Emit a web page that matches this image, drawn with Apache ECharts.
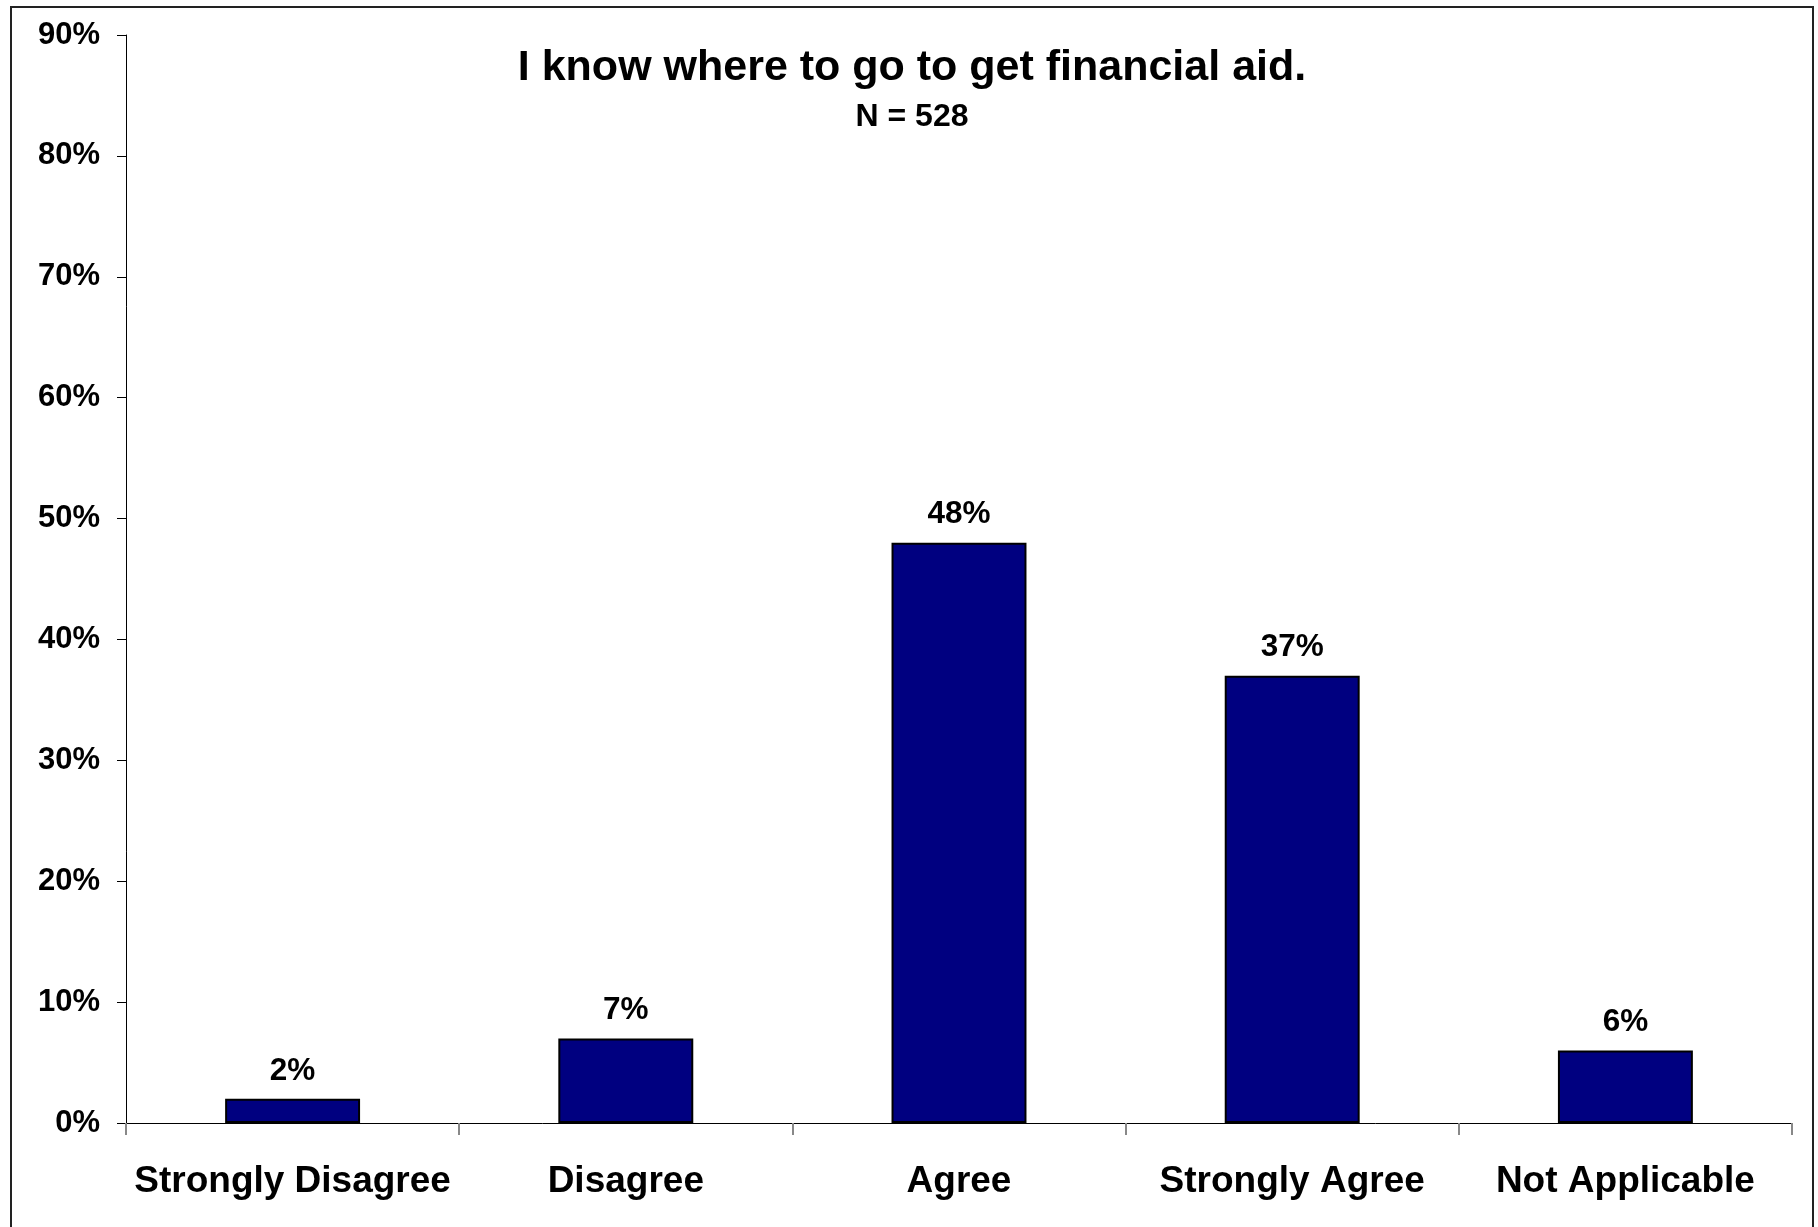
<!DOCTYPE html>
<html>
<head>
<meta charset="utf-8">
<script src="https://cdn.jsdelivr.net/npm/echarts@6/dist/echarts.min.js"></script>
<style>
html,body{margin:0;padding:0;background:#fff;}
#chart{width:1818px;height:1227px;}
</style>
</head>
<body>
<div id="chart"></div>
<script>
const categories = ['Strongly Disagree', 'Disagree', 'Agree', 'Strongly Agree', 'Not Applicable'];
const percentages = [2, 7, 48, 37, 6];
const titleText = 'I know where to go to get financial aid.';
const subtitleText = 'N = 528';
const yMax = 90;
const yInterval = 10;

const FONT = '"Liberation Sans", Arial, sans-serif';
const chart = echarts.init(document.getElementById('chart'), null, {renderer: 'canvas'});
chart.setOption({
  backgroundColor: '#ffffff',
  animation: false,
  grid: {left: 126, top: 35, right: 26, bottom: 104, containLabel: false},
  graphic: [
    {type: 'rect', shape: {x: 11, y: 7, width: 1802, height: 1400}, style: {fill: 'none', stroke: '#222', lineWidth: 2}, z: -1, silent: true},
    {type: 'text', x: 912, y: 68,
      style: {text: titleText, font: 'bold 43px ' + FONT, fill: '#000', textAlign: 'center', textVerticalAlign: 'middle'}},
    {type: 'text', x: 912, y: 117,
      style: {text: subtitleText, font: 'bold 32px ' + FONT, fill: '#000', textAlign: 'center', textVerticalAlign: 'middle'}}
  ],
  xAxis: {
    type: 'category',
    data: categories,
    axisLine: {show: true, lineStyle: {color: '#000', width: 1}},
    axisTick: {show: true, alignWithLabel: false, length: 12, lineStyle: {color: '#888', width: 2}},
    axisLabel: {interval: 0, margin: 40, fontSize: 37, fontWeight: 'bold', fontFamily: FONT, color: '#000'},
    splitLine: {show: false}
  },
  yAxis: {
    type: 'value',
    min: 0, max: yMax, interval: yInterval,
    axisLine: {show: true, lineStyle: {color: '#000', width: 1}},
    axisTick: {show: true, inside: false, length: 9, lineStyle: {color: '#000', width: 1}},
    axisLabel: {margin: 26, fontSize: 31, fontWeight: 'bold', fontFamily: FONT, color: '#000', formatter: '{value}%'},
    splitLine: {show: false}
  },
  series: [{
    type: 'bar',
    data: percentages,
    barWidth: '40.5%',
    itemStyle: {color: '#000080', borderColor: '#000', borderWidth: 2},
    label: {show: true, position: 'top', distance: 12, formatter: '{c}%', fontSize: 31.5, fontWeight: 'bold', fontFamily: FONT, color: '#000'}
  }]
});
</script>
</body>
</html>
